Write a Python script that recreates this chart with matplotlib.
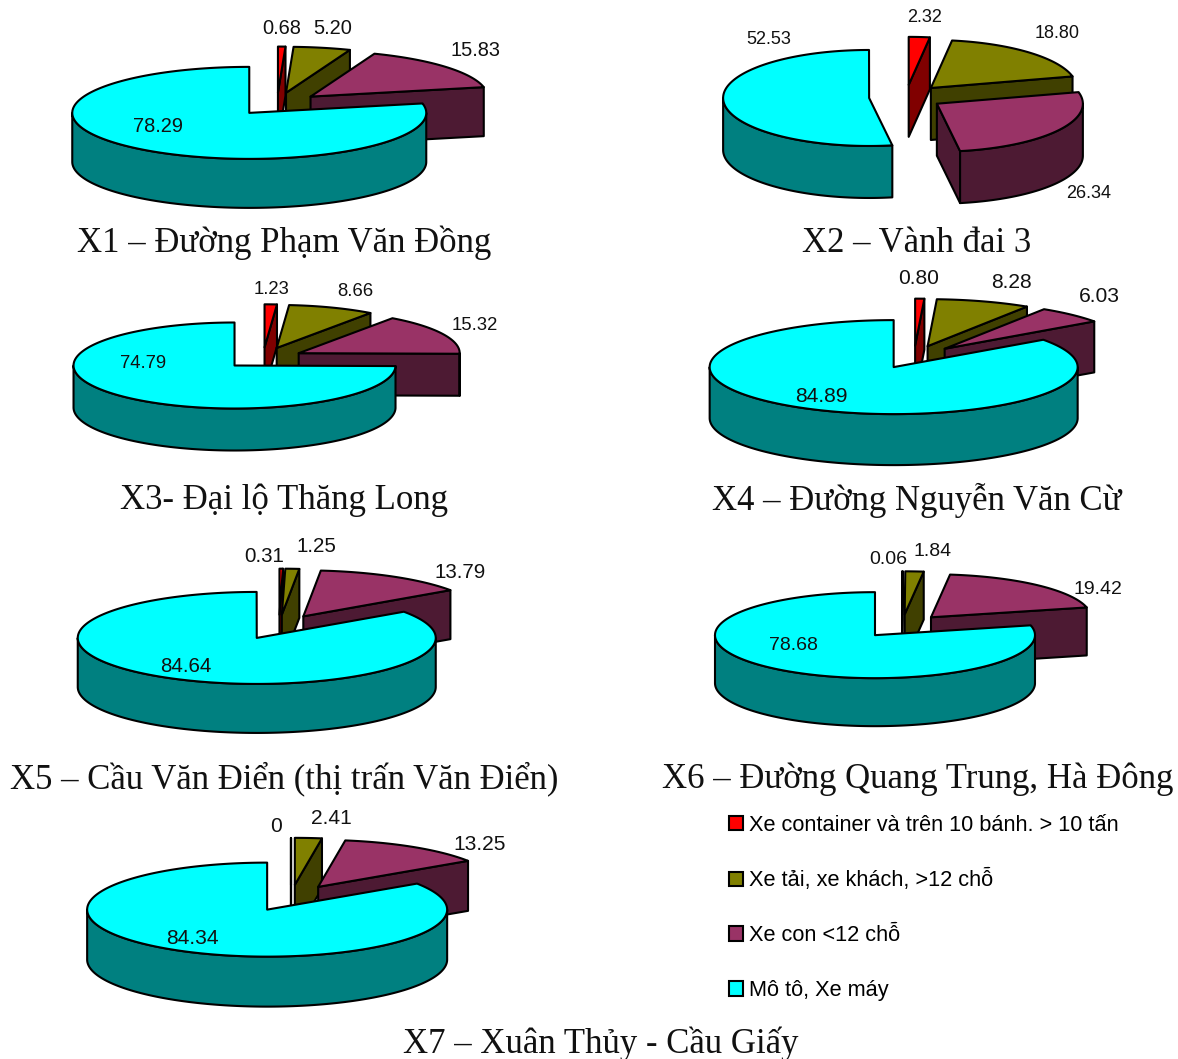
import numpy as np
import matplotlib
matplotlib.use('Agg')
from matplotlib import pyplot as plt
from matplotlib.patches import Polygon, Patch

plt.rcParams['font.family'] = ['Liberation Sans', 'DejaVu Sans']

site_names = ['X1 – Đường Phạm Văn Đồng', 'X2 – Vành đai 3', 'X3- Đại lộ Thăng Long',
              'X4 – Đường Nguyễn Văn Cừ', 'X5 – Cầu Văn Điển (thị trấn Văn Điển)',
              'X6 – Đường Quang Trung, Hà Đông', 'X7 – Xuân Thủy - Cầu Giấy']
container = [0.68, 2.32, 1.23, 0.80, 0.31, 0.06, 0]
truck = [5.20, 18.80, 8.66, 8.28, 1.25, 1.84, 2.41]
car = [15.83, 26.34, 15.32, 6.03, 13.79, 19.42, 13.25]
moto = [78.29, 52.53, 74.79, 84.89, 84.64, 78.68, 84.34]

vehicle_names = ['Xe container và trên 10 bánh. > 10 tấn', 'Xe tải, xe khách, >12 chỗ',
                 'Xe con <12 chỗ', 'Mô tô, Xe máy']
top_colors = ['#ff0000', '#808000', '#993366', '#00ffff']
side_colors = ['#800000', '#404000', '#4d1a33', '#008080']

# pie layout in pixels: centre x, centre y, x radius, y radius, depth, explode
pie_layout = [(277, 104, 177, 46, 49, 44),
              (906, 97, 146, 48, 52, 37),
              (263, 358, 161, 43, 42, 40),
              (914, 357, 184, 47, 51, 44.5),
              (279, 627, 179, 46, 49, 48),
              (902, 626, 160, 43, 48, 43.5),
              (291, 898, 180, 47, 50, 50.5)]
title_pos = [(284, 243), (917, 243), (284, 500), (917, 500), (284, 779), (918, 779), (601, 1044)]

# value label anchors per pie, same order as the series
label_pos = [[(282, 28), (333, 29), (476, 50), (158, 127)],
             [(925, 18), (1057, 33), (1089, 194), (769, 39)],
             [(272, 289), (355, 292), (475, 325), (143, 364)],
             [(919, 279), (1011, 282), (1099, 296), (821, 397)],
             [(264, 556), (316, 547), (460, 572), (186, 667)],
             [(888, 560), (933, 551), (1098, 590), (793, 646)],
             [(276, 827), (331, 819), (480, 845), (192, 938)]]
label_px = [20, 18, 18.5, 21, 20.5, 19.5, 21]


def arc(cx, cy, rx, ry, a0, a1):
    # angles are clockwise from north, in degrees
    t = np.radians(np.linspace(a0, a1, max(2, int(abs(a1 - a0)) + 2)))
    return np.column_stack([cx + rx * np.sin(t), cy - ry * np.cos(t)])


def draw_slice(ax, a0, a1, layout, top, side):
    cx, cy, rx, ry, depth, explode = layout
    mid = np.radians((a0 + a1) / 2)
    x0 = cx + explode * np.sin(mid)
    y0 = cy - explode * ry / rx * np.cos(mid)
    down = np.array([0, depth])
    apex = np.array([x0, y0])
    kw = dict(edgecolor='black', linewidth=1.5, joinstyle='round')

    # flat cut faces, only when they look towards the viewer
    for ang, normal in ((a0, a0 - 90), (a1, a1 + 90)):
        if -np.cos(np.radians(normal)) > 1e-6 or a0 == a1:
            p = arc(x0, y0, rx, ry, ang, ang)[0]
            ax.add_patch(Polygon([apex, p, p + down, apex + down], facecolor=side, **kw))

    # outer wall, front half of the ellipse
    lo, hi = max(a0, 90), min(a1, 270)
    if hi > lo:
        edge = arc(x0, y0, rx, ry, lo, hi)
        ax.add_patch(Polygon(np.vstack([edge, edge[::-1] + down]), facecolor=side, **kw))

    rim = arc(x0, y0, rx, ry, a0, a1)
    ax.add_patch(Polygon(np.vstack([apex, rim]), facecolor=top, **kw))


fig = plt.figure(figsize=(11.78, 10.59), dpi=100)
ax = fig.add_axes([0, 0, 1, 1])
ax.set_xlim(0, 1178)
ax.set_ylim(1059, 0)
ax.axis('off')

for i, name in enumerate(site_names):
    values = [container[i], truck[i], car[i], moto[i]]
    start = 0
    for j, v in enumerate(values):
        stop = start + v * 3.6
        draw_slice(ax, start, stop, pie_layout[i], top_colors[j], side_colors[j])
        x, y = label_pos[i][j]
        ax.text(x, y, f'{v:.2f}' if v else '0', ha='center', va='center',
                fontsize=label_px[i] * 0.72, color='#111111')
        start = stop
    ax.text(title_pos[i][0], title_pos[i][1], name, ha='center', va='center',
            family=['Liberation Serif', 'DejaVu Serif'], fontsize=25, color='#111111')

handles = [Patch(facecolor=c, edgecolor='black', linewidth=1.5) for c in top_colors]
ax.legend(handles, vehicle_names, loc='upper left', bbox_to_anchor=(722 / 1178, 1 - 808 / 1059),
          frameon=False, fontsize=15.7, handlelength=0.65, handleheight=0.65,
          handletextpad=0.28, labelspacing=1.55, borderpad=0.3, borderaxespad=0)

fig.savefig('out.png', dpi=100)
